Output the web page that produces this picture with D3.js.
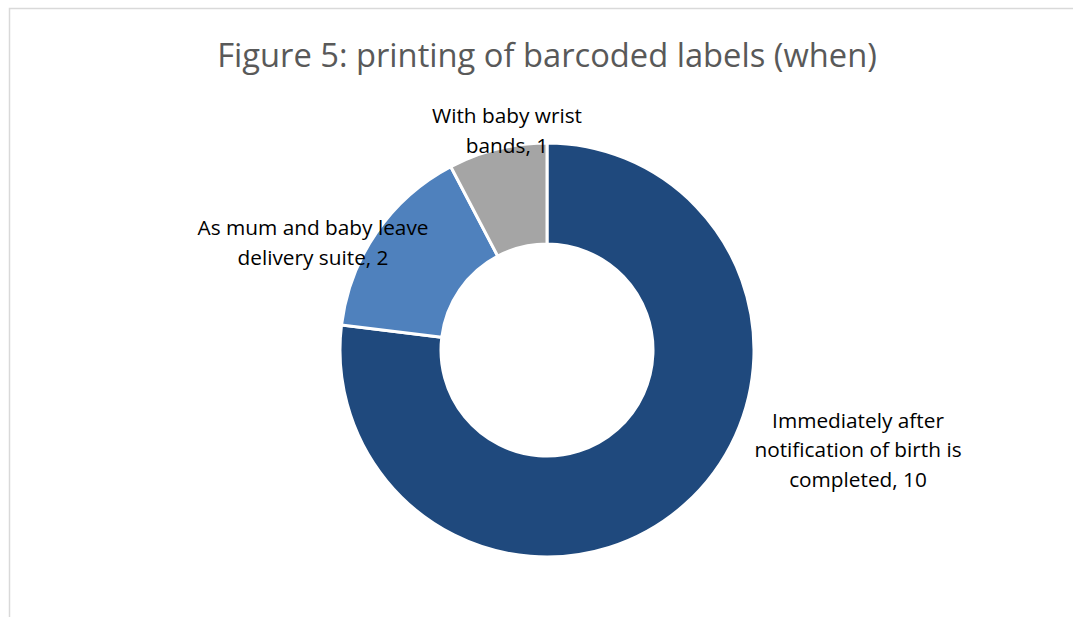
<!DOCTYPE html>
<html>
<head>
<meta charset="utf-8">
<script src="https://cdn.jsdelivr.net/npm/d3@7"></script>
<style>
  body { margin: 0; background: #fff; }
  svg text { font-family: "Open Sans", sans-serif; }
</style>
</head>
<body>
<svg id="svg" width="1073" height="617"></svg>
<script>
// data
const categories = [
  ['Immediately after', 'notification of birth is', 'completed, 10'],
  ['As mum and baby leave', 'delivery suite, 2'],
  ['With baby wrist', 'bands, 1']
];
const values = [10, 2, 1];
const colors = ['#1F497D', '#4F81BD', '#A5A5A5'];
const title = 'Figure 5: printing of barcoded labels (when)';

// layout
const cx = 547, cy = 350, outerR = 207, innerR = 106;
// label centres relative to the donut centre
const labelPos = [[311, 100], [-234, -107], [-40, -219]];
const lineH = 29.5;

const svg = d3.select('#svg');

// chart frame
svg.append('rect')
    .attr('x', 9.5).attr('y', 8.5)
    .attr('width', 1100).attr('height', 700)
    .attr('fill', 'none')
    .attr('stroke', '#d9d9d9')
    .attr('stroke-width', 1.5);

// title, sized to fit its width in the reference
const titleEl = svg.append('text')
    .attr('x', cx).attr('y', 67)
    .attr('text-anchor', 'middle')
    .attr('fill', '#595959')
    .attr('font-size', 30)
    .text(title);
const tw = titleEl.node().getComputedTextLength();
titleEl.attr('font-size', 30 * 660 / tw);

const pie = d3.pie().sort(null).value(d => d);
const arc = d3.arc().innerRadius(innerR).outerRadius(outerR);

const g = svg.append('g').attr('transform', 'translate(' + cx + ',' + cy + ')');

g.selectAll('path')
    .data(pie(values))
  .enter().append('path')
    .attr('d', arc)
    .attr('fill', (d, i) => colors[i])
    .attr('stroke', '#fff')
    .attr('stroke-width', 3)
    .attr('stroke-linejoin', 'miter');

// labels
const labelSize = 19;
const labels = g.selectAll('text.lbl')
    .data(categories)
  .enter().append('text')
    .attr('class', 'lbl')
    .attr('text-anchor', 'middle')
    .attr('fill', '#000')
    .attr('font-size', labelSize)
    .attr('transform', (d, i) => 'translate(' + labelPos[i][0] + ',' + labelPos[i][1] + ')');

labels.each(function(lines) {
    const t = d3.select(this);
    const y0 = -(lines.length - 1) * lineH / 2 + 7;
    lines.forEach((ln, j) => {
        t.append('tspan')
            .attr('x', 0)
            .attr('y', y0 + j * lineH)
            .text(ln);
    });
});

// fit label font to reference width ("Immediately after" ~172px)
const probe = labels.filter((d, i) => i === 0).select('tspan').node().getComputedTextLength();
labels.attr('font-size', labelSize * 172 / probe);
</script>
</body>
</html>
